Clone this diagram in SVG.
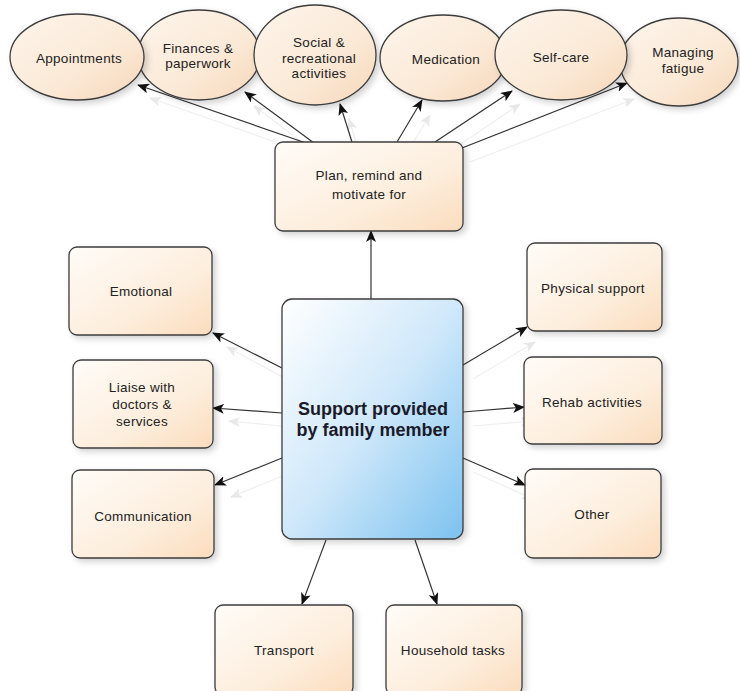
<svg xmlns="http://www.w3.org/2000/svg" width="740" height="691" viewBox="0 0 740 691">
<defs>
<style>
.box{fill:url(#peach);stroke:#3c3c3c;stroke-width:1.3;filter:url(#sh)}
.ell{fill:url(#peachE);stroke:#3c3c3c;stroke-width:1.3;filter:url(#sh)}
.main{fill:url(#blue);stroke:#3c3c3c;stroke-width:1.3;filter:url(#sh)}
.t{font-family:"Liberation Sans",Arial,sans-serif;font-size:13.5px;letter-spacing:0.3px;fill:#222;text-anchor:middle}
.tb{font-family:"Liberation Sans",Arial,sans-serif;font-size:18px;font-weight:bold;fill:#1a1a2a;text-anchor:middle}
.c{stroke:#333;stroke-width:1.2;fill:none;marker-end:url(#ah)}
.cs{stroke:#efefef;stroke-width:1.2;fill:none;marker-end:url(#ahs)}
</style>
<linearGradient id="peach" x1="0" y1="0" x2="1" y2="1">
<stop offset="0" stop-color="#fffcf8"/>
<stop offset="0.6" stop-color="#fdeedd"/>
<stop offset="1" stop-color="#fbdcbd"/>
</linearGradient>
<linearGradient id="peachE" x1="0" y1="0" x2="1" y2="1">
<stop offset="0" stop-color="#fdf5ec"/>
<stop offset="0.6" stop-color="#fbe9d6"/>
<stop offset="1" stop-color="#f6d6b8"/>
</linearGradient>
<linearGradient id="blue" x1="0" y1="0" x2="1" y2="1">
<stop offset="0" stop-color="#ffffff"/>
<stop offset="0.5" stop-color="#cfe8fa"/>
<stop offset="1" stop-color="#7cc2ef"/>
</linearGradient>
<filter id="sh" x="-20%" y="-20%" width="150%" height="150%">
<feDropShadow dx="3" dy="3" stdDeviation="3" flood-color="#000" flood-opacity="0.18"/>
</filter>
<marker id="ah" markerUnits="userSpaceOnUse" markerWidth="12" markerHeight="10" refX="11" refY="5" orient="auto">
<path d="M0,0 L12,5 L0,10 L3,5 z" fill="#111"/>
</marker>
<marker id="ahs" markerUnits="userSpaceOnUse" markerWidth="12" markerHeight="10" refX="11" refY="5" orient="auto">
<path d="M0,0 L12,5 L0,10 L3,5 z" fill="#e8e8e8"/>
</marker>
</defs>
<rect width="740" height="691" fill="#fff"/>

<g id="connector-shadows">
<line class="cs" x1="318" y1="157" x2="150" y2="98"/>
<line class="cs" x1="322" y1="157" x2="254" y2="106"/>
<line class="cs" x1="360" y1="156" x2="349" y2="119"/>
<line class="cs" x1="405" y1="156" x2="430" y2="115"/>
<line class="cs" x1="443" y1="156" x2="520" y2="104"/>
<line class="cs" x1="470" y1="162" x2="634" y2="99"/>
<line class="cs" x1="292" y1="382" x2="227" y2="347"/>
<line class="cs" x1="292" y1="427" x2="229" y2="421"/>
<line class="cs" x1="292" y1="472" x2="231" y2="497"/>
<line class="cs" x1="473" y1="379" x2="535" y2="342"/>
<line class="cs" x1="473" y1="426" x2="532" y2="421"/>
<line class="cs" x1="473" y1="472" x2="533" y2="499"/>
</g>

<g id="connectors">
<line class="c" x1="306" y1="143" x2="138" y2="85"/>
<line class="c" x1="314" y1="143" x2="245" y2="92"/>
<line class="c" x1="352" y1="142" x2="340" y2="104"/>
<line class="c" x1="397" y1="142" x2="422" y2="100"/>
<line class="c" x1="435" y1="142" x2="512" y2="91"/>
<line class="c" x1="462" y1="148" x2="627" y2="83"/>
<line class="c" x1="371" y1="299" x2="371" y2="231"/>
<line class="c" x1="282" y1="368" x2="213" y2="333"/>
<line class="c" x1="282" y1="413" x2="213" y2="408"/>
<line class="c" x1="282" y1="458" x2="215" y2="485"/>
<line class="c" x1="463" y1="365" x2="527" y2="327"/>
<line class="c" x1="463" y1="412" x2="524" y2="407"/>
<line class="c" x1="463" y1="458" x2="525" y2="485"/>
<line class="c" x1="326" y1="540" x2="302" y2="604"/>
<line class="c" x1="415" y1="540" x2="437" y2="604"/>
</g>

<g id="finances">
<ellipse class="ell" cx="199" cy="55" rx="61" ry="45"/>
<text class="t" x="198" y="53">Finances &amp;</text>
<text class="t" x="198" y="68">paperwork</text>
</g>
<g id="appointments">
<ellipse class="ell" cx="77" cy="57" rx="67" ry="43"/>
<text class="t" x="79" y="63">Appointments</text>
</g>
<g id="social">
<ellipse class="ell" cx="315" cy="55" rx="61" ry="50"/>
<text class="t" x="319" y="47">Social &amp;</text>
<text class="t" x="319" y="63">recreational</text>
<text class="t" x="319" y="78">activities</text>
</g>
<g id="medication">
<ellipse class="ell" cx="443" cy="58" rx="63" ry="43"/>
<text class="t" x="446" y="64">Medication</text>
</g>
<g id="managing-fatigue">
<ellipse class="ell" cx="679" cy="62" rx="59" ry="44"/>
<text class="t" x="683" y="57">Managing</text>
<text class="t" x="683" y="73">fatigue</text>
</g>
<g id="self-care">
<ellipse class="ell" cx="561" cy="55" rx="66" ry="45"/>
<text class="t" x="561" y="62">Self-care</text>
</g>

<g id="plan">
<rect class="box" x="275" y="142" width="188" height="89" rx="8"/>
<text class="t" x="369" y="180">Plan, remind and</text>
<text class="t" x="369" y="199">motivate for</text>
</g>

<g id="support">
<rect class="main" x="282" y="299" width="181" height="240" rx="10"/>
<text class="tb" x="373" y="415">Support provided</text>
<text class="tb" x="373" y="436">by family member</text>
</g>

<g id="emotional">
<rect class="box" x="69" y="247" width="143" height="88" rx="8"/>
<text class="t" x="141" y="296">Emotional</text>
</g>
<g id="liaise">
<rect class="box" x="73" y="360" width="140" height="88" rx="8"/>
<text class="t" x="142" y="392">Liaise with</text>
<text class="t" x="142" y="409">doctors &amp;</text>
<text class="t" x="142" y="426">services</text>
</g>
<g id="communication">
<rect class="box" x="72" y="470" width="142" height="88" rx="8"/>
<text class="t" x="143" y="521">Communication</text>
</g>

<g id="physical">
<rect class="box" x="527" y="243" width="135" height="88" rx="8"/>
<text class="t" x="593" y="293">Physical support</text>
</g>
<g id="rehab">
<rect class="box" x="524" y="357" width="138" height="87" rx="8"/>
<text class="t" x="592" y="407">Rehab activities</text>
</g>
<g id="other">
<rect class="box" x="525" y="469" width="136" height="89" rx="8"/>
<text class="t" x="592" y="519">Other</text>
</g>

<g id="transport">
<rect class="box" x="215" y="605" width="138" height="90" rx="8"/>
<text class="t" x="284" y="655">Transport</text>
</g>
<g id="household">
<rect class="box" x="386" y="605" width="136" height="90" rx="8"/>
<text class="t" x="453" y="655">Household tasks</text>
</g>
</svg>
